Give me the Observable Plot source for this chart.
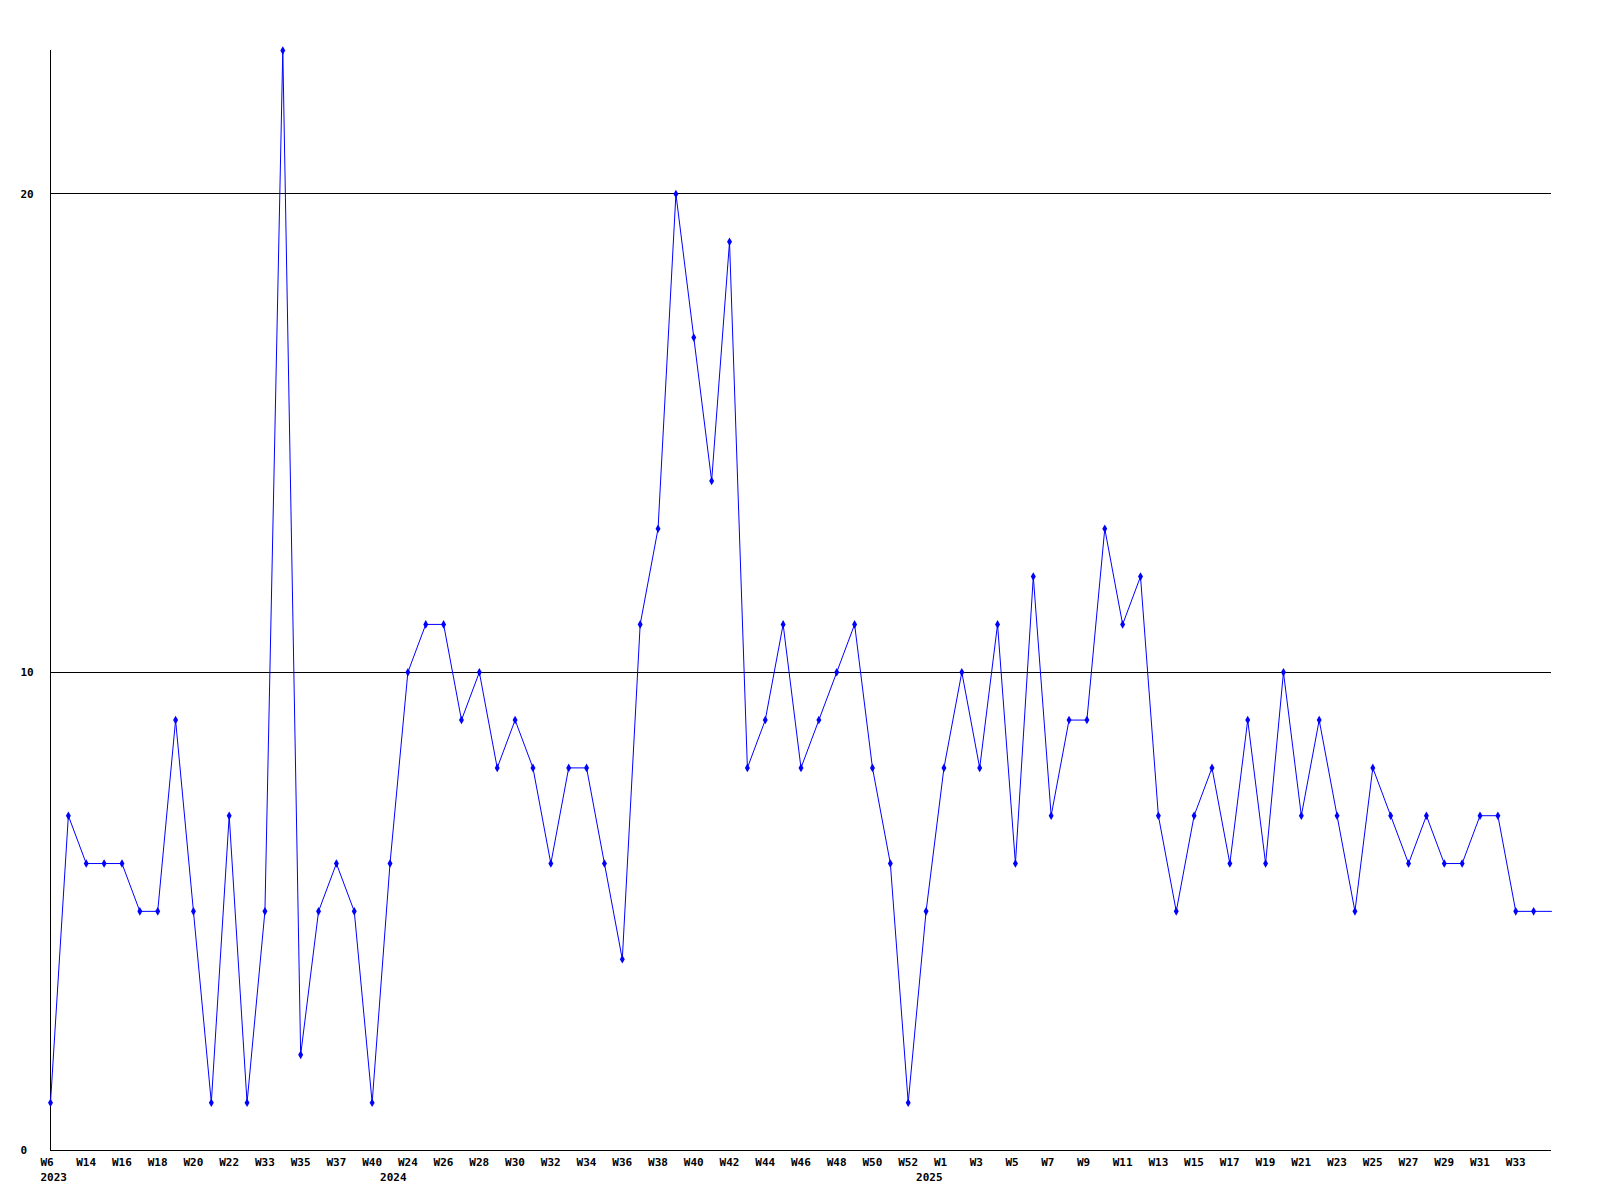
<!DOCTYPE html>
<html><head><meta charset="utf-8">
<script src="https://cdn.jsdelivr.net/npm/d3@7"></script>
<script src="https://cdn.jsdelivr.net/npm/@observablehq/plot@0.6"></script>
<style>
html,body{margin:0;padding:0;background:#fff}
#chart{position:absolute;left:0;top:0}
</style>
</head><body><div id="chart"></div>
<script>
// Week labels for each point (only every other one is shown on the axis)
const weeks = [
  "W6","W13","W14","W15","W16","W17","W18","W19","W20","W21",
  "W22","W23","W33","W34","W35","W36","W37","W38","W40","W23",
  "W24","W25","W26","W27","W28","W29","W30","W31","W32","W33",
  "W34","W35","W36","W37","W38","W39","W40","W41","W42","W43",
  "W44","W45","W46","W47","W48","W49","W50","W51","W52","W53",
  "W1","W2","W3","W4","W5","W6","W7","W8","W9","W10",
  "W11","W12","W13","W14","W15","W16","W17","W18","W19","W20",
  "W21","W22","W23","W24","W25","W26","W27","W28","W29","W30",
  "W31","W32","W33","W34","W35"
];
// Weekly counts
const counts = [
  1,7,6,6,6,5,5,9,5,1,
  7,1,5,23,2,5,6,5,1,6,
  10,11,11,9,10,8,9,8,6,8,
  8,6,4,11,13,20,17,14,19,8,
  9,11,8,9,10,11,8,6,1,5,
  8,10,8,11,6,12,7,9,9,13,
  11,12,7,5,7,8,6,9,6,10,
  7,9,7,5,8,7,6,7,6,6,
  7,7,5,5,5
];
// Year labels and the point where each year's label sits
const years = ["2023","2024","2025"];
const yearStarts = [0,19,49];
const yTicks = [0,10,20];

const data = counts.map((v,i)=>({i, week: weeks[i], v}));
const labelIdx = weeks.map((_,i)=>i).filter(i=>i%2===0 && i<weeks.length-1);
const yearData = years.map((y,k)=>({i: yearStarts[k], year: y}));

const chart = Plot.plot({
  width:1600, height:1200,
  marginLeft:50, marginRight:49, marginTop:50, marginBottom:50,
  style:{fontFamily:"'DejaVu Sans Mono', monospace", fontSize:"11px", fontWeight:"bold", color:"#000", background:"#fff"},
  x:{type:"linear", domain:[0, counts.length-1], axis:null},
  y:{domain:[0,23], axis:null},
  marks:[
    Plot.ruleY(yTicks, {stroke:"#000", strokeWidth:1, shapeRendering:"crispEdges"}),
    Plot.ruleX([0], {stroke:"#000", strokeWidth:1, shapeRendering:"crispEdges"}),
    Plot.text(yTicks, {y:d=>d, frameAnchor:"left", dx:-30, textAnchor:"start", text:d=>String(d), fill:"#000"}),
    Plot.text(labelIdx, {x:d=>d, frameAnchor:"bottom", dx:-10, dy:8, textAnchor:"start", lineAnchor:"top", text:d=>weeks[d], fill:"#000"}),
    Plot.text(yearData, {x:"i", frameAnchor:"bottom", dx:-10, dy:23, textAnchor:"start", lineAnchor:"top", text:"year", fill:"#000"}),
    Plot.line(data, {x:"i", y:"v", stroke:"#0000ff", strokeWidth:1}),
    Plot.dot(data.filter(d=>d.i<counts.length-1), {x:"i", y:"v", symbol:"diamond", r:2.6, fill:"#0000ff"})
  ]
});
document.getElementById("chart").appendChild(chart);
</script>
</body></html>
